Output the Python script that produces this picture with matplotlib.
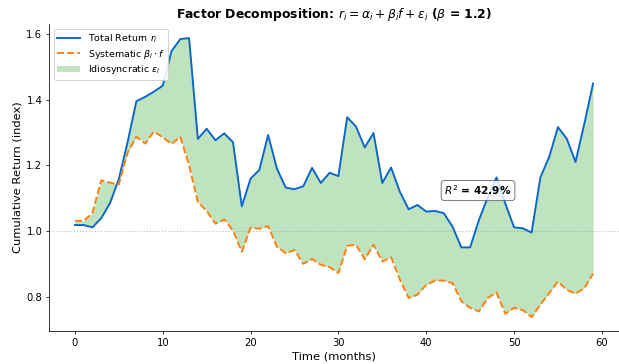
import numpy as np
import matplotlib
matplotlib.use("Agg")
import matplotlib.pyplot as plt

# Monthly cumulative returns
months = np.arange(60)
total_return = [
    1.018, 1.018, 1.011, 1.039, 1.085, 1.158, 1.270, 1.395, 1.408, 1.424,
    1.442, 1.547, 1.584, 1.587, 1.280, 1.311, 1.276, 1.297, 1.270, 1.075,
    1.159, 1.186, 1.292, 1.190, 1.132, 1.127, 1.136, 1.192, 1.146, 1.177,
    1.167, 1.346, 1.318, 1.254, 1.298, 1.146, 1.193, 1.119, 1.066, 1.079,
    1.059, 1.061, 1.054, 1.013, 0.950, 0.950, 1.033, 1.102, 1.163, 1.084,
    1.011, 1.008, 0.995, 1.163, 1.225, 1.316, 1.281, 1.210, 1.326, 1.449,
]
systematic = [
    1.031, 1.030, 1.055, 1.154, 1.147, 1.142, 1.238, 1.287, 1.266, 1.303,
    1.285, 1.265, 1.286, 1.200, 1.088, 1.061, 1.022, 1.035, 1.001, 0.937,
    1.010, 1.007, 1.015, 0.952, 0.932, 0.942, 0.900, 0.915, 0.897, 0.890,
    0.872, 0.955, 0.958, 0.914, 0.958, 0.907, 0.920, 0.852, 0.796, 0.806,
    0.836, 0.849, 0.849, 0.841, 0.786, 0.766, 0.755, 0.796, 0.813, 0.748,
    0.766, 0.759, 0.738, 0.776, 0.811, 0.846, 0.821, 0.809, 0.826, 0.870,
]
beta = 1.2
r_squared = 42.9

# rendered large, saved small: 9 x 5.29 in at ~68.8 dpi -> 619 x 364 px
DPI = 619 / 9.0
fig = plt.figure(figsize=(9.0, 364 / DPI), dpi=DPI)
ax = fig.add_axes([49 / 619, 0.0907, 570 / 619, 0.843])

ax.plot(months, total_return, color='#0a66c8', linewidth=2, label=r'Total Return $r_i$', zorder=3)
ax.plot(months, systematic, color='#ff7f0e', linewidth=2, linestyle='--',
        label=r'Systematic $\beta_i \cdot f$', zorder=3)
ax.fill_between(months, systematic, total_return, color='#2ca02c', alpha=0.3,
                linewidth=0, label=r'Idiosyncratic $\varepsilon_i$')

ax.axhline(1.0, color='gray', linestyle=':', linewidth=1.2, alpha=0.5)

ax.text(45.9, 1.123, r'$R^2$ = %.1f%%' % r_squared, ha='center', va='center',
        fontsize=11, fontweight='bold',
        bbox=dict(boxstyle='round,pad=0.3', facecolor='white', edgecolor='#555555', alpha=0.8))

ax.set_title(r'Factor Decomposition: $r_i = \alpha_i + \beta_i f + \varepsilon_i$ ($\beta$ = %.1f)' % beta,
             fontsize=13, fontweight='bold')
ax.set_xlabel('Time (months)', fontsize=12)
ax.set_ylabel('Cumulative Return (index)', fontsize=12)
ax.tick_params(labelsize=10.5)
ax.legend(loc='upper left', fontsize=10, framealpha=0.9, labelspacing=0.3,
          borderpad=0.35, handlelength=2.4)

ax.spines['top'].set_visible(False)
ax.spines['right'].set_visible(False)

fig.savefig('out.png', dpi=DPI)
